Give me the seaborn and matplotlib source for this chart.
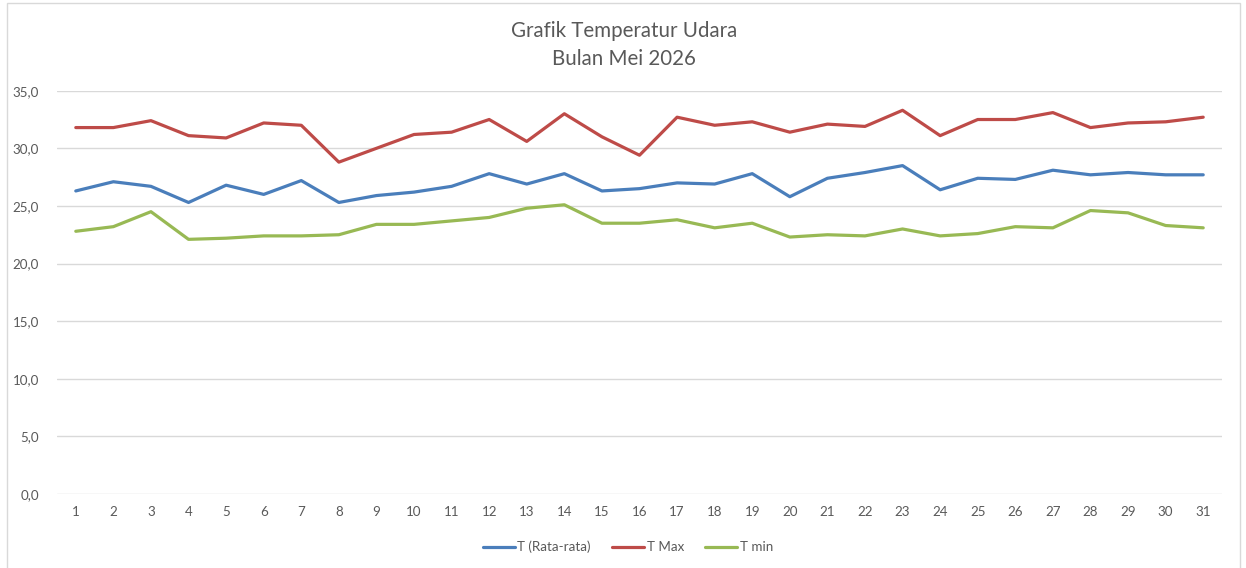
import numpy as np
import pandas as pd
import matplotlib
matplotlib.use("Agg")
import matplotlib.pyplot as plt
import seaborn as sns
from matplotlib.patches import Rectangle

days = list(range(1, 32))
t_avg = [26.3, 27.1, 26.7, 25.3, 26.8, 26.0, 27.2, 25.3, 25.9, 26.2,
         26.7, 27.8, 26.9, 27.8, 26.3, 26.5, 27.0, 26.9, 27.8, 25.8,
         27.4, 27.9, 28.5, 26.4, 27.4, 27.3, 28.1, 27.7, 27.9, 27.7, 27.7]
t_max = [31.8, 31.8, 32.4, 31.1, 30.9, 32.2, 32.0, 28.8, 30.0, 31.2,
         31.4, 32.5, 30.6, 33.0, 31.0, 29.4, 32.7, 32.0, 32.3, 31.4,
         32.1, 31.9, 33.3, 31.1, 32.5, 32.5, 33.1, 31.8, 32.2, 32.3, 32.7]
t_min = [22.8, 23.2, 24.5, 22.1, 22.2, 22.4, 22.4, 22.5, 23.4, 23.4,
         23.7, 24.0, 24.8, 25.1, 23.5, 23.5, 23.8, 23.1, 23.5, 22.3,
         22.5, 22.4, 23.0, 22.4, 22.6, 23.2, 23.1, 24.6, 24.4, 23.3, 23.1]
series_names = ["T (Rata-rata)", "T Max", "T min"]
colors = ["#4A7EBB", "#BE4B48", "#98B954"]
y_ticks = [0, 5, 10, 15, 20, 25, 30, 35]

df = pd.DataFrame({"Hari": days, series_names[0]: t_avg,
                   series_names[1]: t_max, series_names[2]: t_min})
long = df.melt(id_vars="Hari", var_name="Seri", value_name="Suhu")

sns.set_theme(style="white")
plt.rcParams["font.family"] = ["Lato", "DejaVu Sans"]

W, H = 1246, 568
fig = plt.figure(figsize=(W / 100, H / 100), dpi=100)
fig.patch.set_facecolor("white")
fig.patches.append(Rectangle((7 / W, -0.1), (1240 - 7) / W, 1.1 - 3 / H,
                             transform=fig.transFigure, fill=False,
                             edgecolor="#D9D9D9", linewidth=1.0))

ax = fig.add_axes([57 / W, 74 / H, (1222 - 57) / W, (494 - 90.7) / H])
sns.lineplot(data=long, x="Hari", y="Suhu", hue="Seri", hue_order=series_names,
             palette=colors, linewidth=2.3, ax=ax, legend=True)

ax.set_xlim(0.5, 31.5)
ax.set_ylim(0, 35)
ax.set_yticks(y_ticks)
ax.set_yticklabels([f"{v:.1f}".replace(".", ",") for v in y_ticks])
ax.set_xticks(days)
ax.set_xticklabels([str(d) for d in days])
ax.tick_params(axis="both", length=0, labelsize=9.6, colors="#595959")
ax.tick_params(axis="x", pad=9)
ax.tick_params(axis="y", pad=13)
ax.set_xlabel("")
ax.set_ylabel("")
for s in ax.spines.values():
    s.set_visible(False)
ax.yaxis.grid(True, color="#D9D9D9", linewidth=1.0)
ax.xaxis.grid(False)
ax.set_axisbelow(True)

ax.legend_.remove()
handles, labels = ax.get_legend_handles_labels()
fig.legend(handles, labels, loc="center", bbox_to_anchor=(628 / W, 1 - 547 / H),
           ncol=3, frameon=False, fontsize=9.6, handlelength=2.4,
           handletextpad=0.2, columnspacing=1.6, labelcolor="#595959")

fig.text(624 / W, 1 - 31 / H, "Grafik Temperatur Udara", ha="center", va="center",
         fontsize=14.8, color="#595959")
fig.text(624 / W, 1 - 59 / H, "Bulan Mei 2026", ha="center", va="center",
         fontsize=14.8, color="#595959")

fig.savefig("out.png", dpi=100, facecolor="white")
